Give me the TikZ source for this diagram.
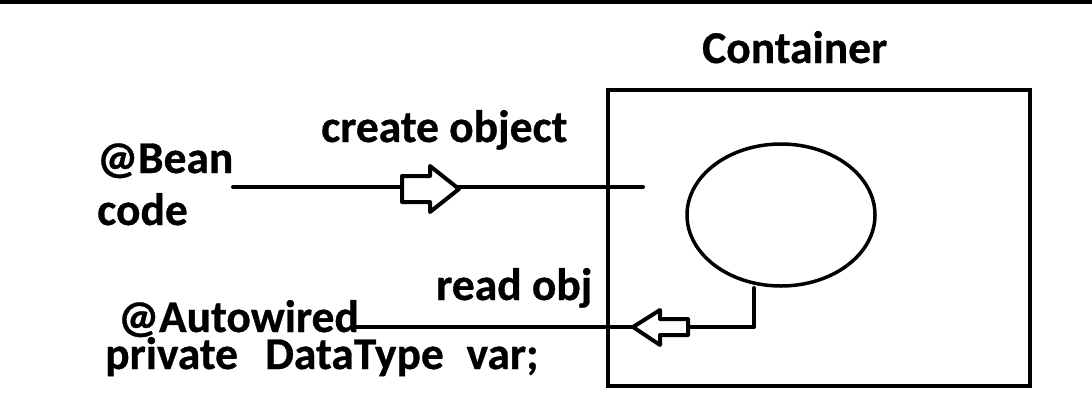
\documentclass[tikz,border=0pt]{standalone}
\usepackage{fontspec}
\setmainfont{Carlito}[BoldFeatures={FakeBold=0.7}]
\usetikzlibrary{shapes.geometric}
\begin{document}
\begin{tikzpicture}[x=1pt,y=-1pt,
  lbl/.style={anchor=base west,inner sep=0pt,font=\fontsize{45.5}{48}\selectfont\bfseries},
  wire/.style={line width=4pt,line cap=round,line join=round},
  blk/.style={line width=4pt,line join=round,fill=white}]
\useasboundingbox (0,0) rectangle (1092,402);
\fill[black] (0,0) rectangle (1092,4);
% container
\node[draw,line width=3.5pt,minimum width=422pt,minimum height=296pt,anchor=north west,inner sep=0pt] (box) at (606,88) {};
\node[lbl] (ctitle) at (702,63) {Container};
\node[draw,line width=3.5pt,ellipse,minimum width=188pt,minimum height=142pt,inner sep=0pt] (obj) at (781,215) {};
% top
\coordinate (s1) at (233,187);
\coordinate (e1) at (643,187);
\draw[wire] (s1) -- (e1);
\draw[blk] (402,176) -- (430,176) -- (430,166) -- (459,189) -- (430,212) -- (430,202) -- (402,202) -- cycle;
\node[lbl] (create) at (321,142) {create object};
\node[lbl] (bean) at (97,173) {@Bean};
\node[lbl] (code) at (97,225) {code};
% bottom
\coordinate (s2) at (754,288);
\coordinate (c2) at (754,327);
\coordinate (e2) at (354,327);
\draw[wire] (s2) -- (c2) -- (e2);
\draw[blk] (688,319) -- (660,319) -- (660,310) -- (633,327) -- (660,345) -- (660,335) -- (688,335) -- cycle;
\node[lbl] (read) at (436,300) {read obj};
\node[lbl] (auto) at (118,332) {@Autowired};
\node[lbl] (priv) at (105,369) {private\hspace{0.6em}DataType\hspace{0.5em}var;};
\end{tikzpicture}
\end{document}
